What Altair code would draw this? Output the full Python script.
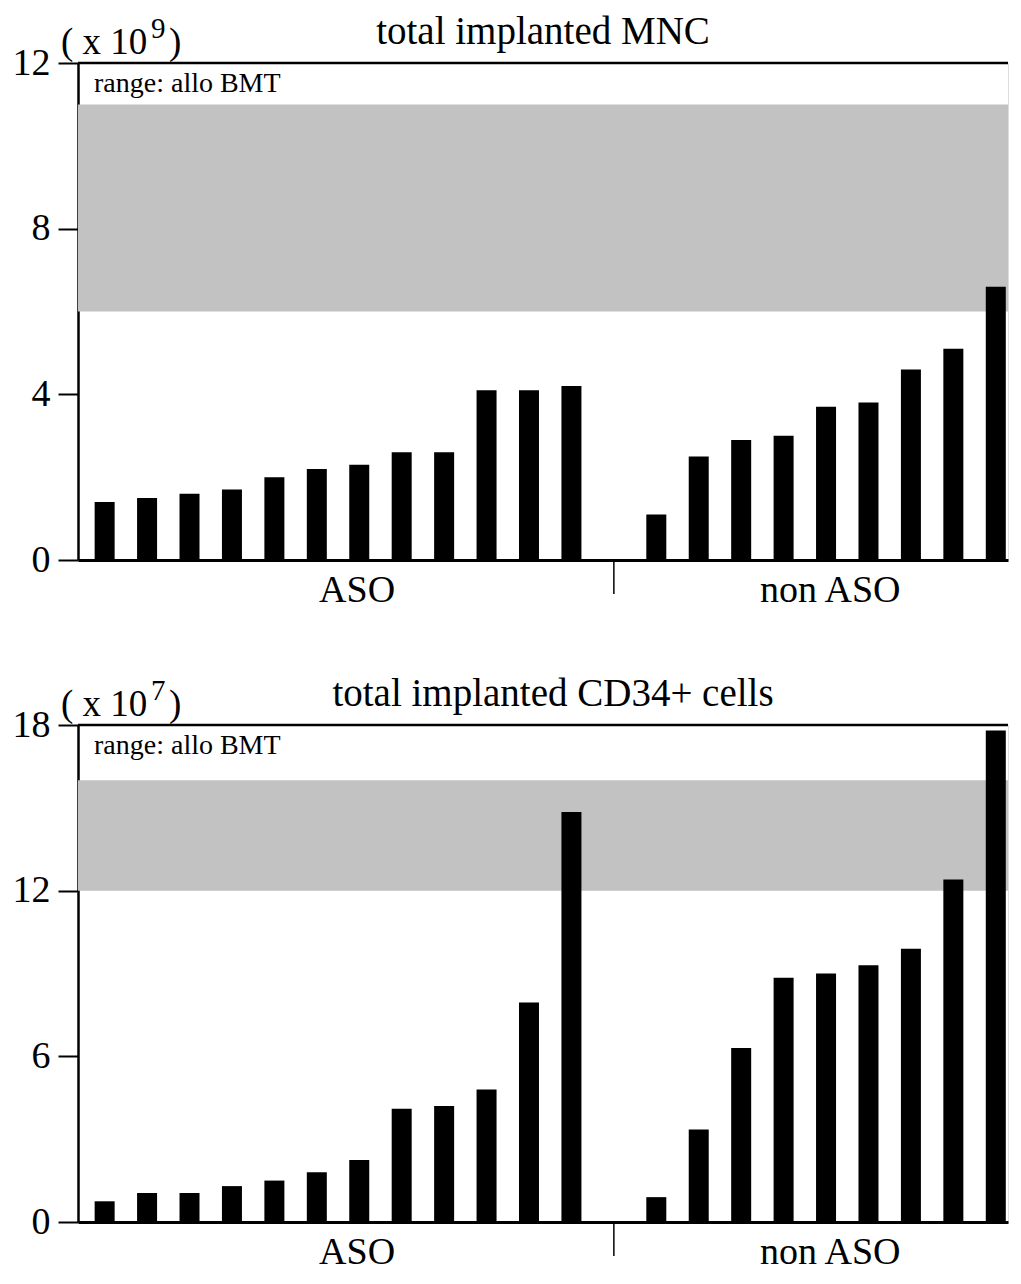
import altair as alt
import pandas as pd

# ---- data ----
slots_aso = list(range(1, 13))
slots_non = list(range(14, 23))
separator_slot = [13]

mnc_aso = [1.4, 1.5, 1.6, 1.7, 2.0, 2.2, 2.3, 2.6, 2.6, 4.1, 4.1, 4.2]
mnc_non = [1.1, 2.5, 2.9, 3.0, 3.7, 3.8, 4.6, 5.1, 6.6]
cd34_aso = [0.75, 1.05, 1.05, 1.3, 1.5, 1.8, 2.25, 4.1, 4.2, 4.8, 7.95, 14.85]
cd34_non = [0.9, 3.35, 6.3, 8.85, 9.0, 9.3, 9.9, 12.4, 17.8]

groups = ["ASO", "non ASO"]
group_label_slot = [6.95, 18.1]

mnc_band = [6, 11]
cd34_band = [12, 16]
mnc_ticks = [0, 4, 8, 12]
cd34_ticks = [0, 6, 12, 18]
titles = ["total implanted MNC", "total implanted CD34+ cells"]
exponents = ["9", "7"]
range_label = ["range: allo BMT"]

FONT = "Liberation Serif"
W = 930
H = 497


def panel(aso, non, ticks, band, title, exp, title_dx):
    ymax = ticks[-1]
    xs = alt.Scale(domain=[0.49, 22.17], nice=False, zero=False)
    ys = alt.Scale(domain=[0, ymax], nice=False, zero=True)
    yaxis = alt.Axis(values=ticks, tickSize=20, tickWidth=2, tickColor="black",
                     domainWidth=2.5, domainColor="black", grid=False, title=None,
                     labelFont=FONT, labelFontSize=38, labelColor="black",
                     labelPadding=8, labelFlush=False, labelOverlap=False)
    xaxis = alt.Axis(labels=False, ticks=False, grid=False, title=None,
                     domainWidth=3, domainColor="black")

    bars_df = pd.DataFrame({"slot": slots_aso + slots_non, "value": aso + non})
    band_df = pd.DataFrame({"lo": [band[0]], "hi": [band[1]]})

    band_layer = alt.Chart(band_df).mark_rect(color="#c2c2c2").encode(
        x=alt.value(0), x2=alt.value(W),
        y=alt.Y("lo:Q", scale=ys, axis=yaxis), y2="hi:Q",
    )

    bar_layer = alt.Chart(bars_df).mark_bar(color="black", size=20).encode(
        x=alt.X("slot:Q", scale=xs, axis=xaxis),
        y=alt.Y("value:Q", scale=ys, axis=yaxis),
    )

    top_rule = alt.Chart(band_df).mark_rule(color="black", strokeWidth=2.5).encode(
        x=alt.value(0), x2=alt.value(W), y=alt.value(0)
    )

    sep = alt.Chart(pd.DataFrame({"slot": separator_slot})).mark_rule(
        color="black", strokeWidth=1.5
    ).encode(x=alt.X("slot:Q", scale=xs), y=alt.value(H), y2=alt.value(H + 34))

    glabels = alt.Chart(pd.DataFrame({"slot": group_label_slot, "label": groups})).mark_text(
        font=FONT, fontSize=38, align="center", baseline="alphabetic", color="black"
    ).encode(x=alt.X("slot:Q", scale=xs), y=alt.value(H + 42), text="label:N")

    rlabel = alt.Chart(pd.DataFrame({"t": range_label})).mark_text(
        font=FONT, fontSize=28, align="left", baseline="alphabetic", color="black"
    ).encode(x=alt.value(16), y=alt.value(29), text="t:N")

    ttl = alt.Chart(pd.DataFrame({"t": [title]})).mark_text(
        font=FONT, fontSize=39, align="center", baseline="alphabetic", color="black"
    ).encode(x=alt.value(W / 2 + title_dx), y=alt.value(-19), text="t:N")

    unit1 = alt.Chart(pd.DataFrame({"t": ["( x 10"]})).mark_text(
        font=FONT, fontSize=37, align="left", baseline="alphabetic", color="black"
    ).encode(x=alt.value(-17), y=alt.value(-9), text="t:N")
    unit2 = alt.Chart(pd.DataFrame({"t": [exp]})).mark_text(
        font=FONT, fontSize=29, align="left", baseline="alphabetic", color="black"
    ).encode(x=alt.value(73), y=alt.value(-25), text="t:N")
    unit3 = alt.Chart(pd.DataFrame({"t": [")"]})).mark_text(
        font=FONT, fontSize=37, align="left", baseline="alphabetic", color="black"
    ).encode(x=alt.value(91), y=alt.value(-9), text="t:N")

    return alt.layer(band_layer, bar_layer, top_rule, sep, glabels, rlabel, ttl,
                     unit1, unit2, unit3).properties(width=W, height=H)


top = panel(mnc_aso, mnc_non, mnc_ticks, mnc_band, titles[0], exponents[0], 0)
bottom = panel(cd34_aso, cd34_non, cd34_ticks, cd34_band, titles[1], exponents[1], 10)

chart = alt.vconcat(top, bottom, spacing=63).properties(
    padding={"left": 3, "top": 4, "right": 0, "bottom": 0}
).configure_view(stroke=None).configure(background="white")

chart.save("out.html", embed_options={"renderer": "svg", "actions": False})
